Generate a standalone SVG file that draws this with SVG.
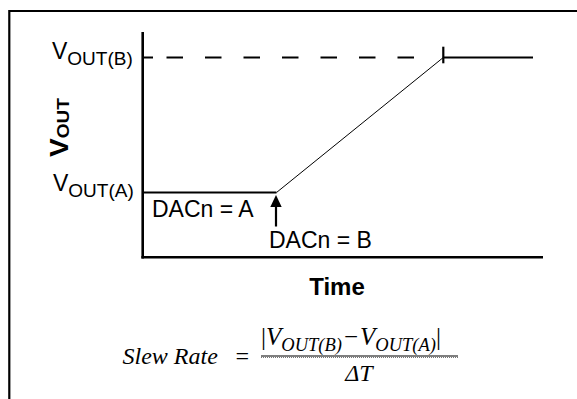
<svg xmlns="http://www.w3.org/2000/svg" width="577" height="399" viewBox="0 0 577 399">
  <style>
    .sans { font-family: "Liberation Sans", Arial, sans-serif; fill: #000; }
    .serif { font-family: "Liberation Serif", "Times New Roman", serif; font-style: italic; fill: #000; }
    .bold { font-weight: bold; }
    .thick { stroke: #000; stroke-width: 2.6; fill: none; }
    .med { stroke: #000; stroke-width: 2.2; fill: none; }
    .thin { stroke: #000; stroke-width: 1; fill: none; }
  </style>
  <rect width="577" height="399" fill="#fff"/>
  <g id="frame">
    <path d="M9.3,399 V11 H577" class="med"/>
  </g>
  <g id="axes">
    <line x1="142.7" y1="32" x2="142.7" y2="258.5" class="thick"/>
    <line x1="141.4" y1="257.3" x2="543" y2="257.3" class="thick"/>
  </g>
  <g id="connectors">
    <path d="M143,57.5 H153 M166.5,57.5 H183 M205,57.5 H221.5 M243.5,57.5 H260 M282,57.5 H298.5 M320.5,57.5 H337 M359,57.5 H375.5 M397.5,57.5 H414" class="med"/>
    <line x1="443.3" y1="57.5" x2="533" y2="57.5" class="med"/>
    <line x1="443.3" y1="46.7" x2="443.3" y2="63.3" class="med"/>
    <line x1="143" y1="192.5" x2="276.5" y2="192.5" class="med"/>
    <line x1="276.5" y1="192.5" x2="443.3" y2="57.5" class="thin"/>
    <line x1="276" y1="206" x2="276" y2="226.5" class="med"/>
    <polygon points="276,195 270.3,207 281.7,207" fill="#000"/>
  </g>
  <g id="label-vout-b">
    <text x="52" y="59" class="sans" font-size="23">V<tspan font-size="19" dy="5.5">OUT(B)</tspan></text>
  </g>
  <g id="label-vout-a">
    <text x="53" y="191" class="sans" font-size="23">V<tspan font-size="19" dy="5.5">OUT(A)</tspan></text>
  </g>
  <g id="label-vout-axis">
    <text transform="translate(68,157) rotate(-90) scale(1.12,1)" class="sans bold" font-size="25">V<tspan font-size="17" dy="1">OUT</tspan></text>
  </g>
  <g id="label-dacn-a">
    <text x="152" y="216.5" class="sans" font-size="23">DACn = A</text>
  </g>
  <g id="label-dacn-b">
    <text x="269" y="247.5" class="sans" font-size="23">DACn = B</text>
  </g>
  <g id="label-time">
    <text x="337" y="295" class="sans bold" font-size="24" text-anchor="middle">Time</text>
  </g>
  <g id="formula">
    <text x="122.5" y="364" class="serif" font-size="24">Slew Rate</text>
    <text x="234" y="364" class="serif" font-size="24" font-style="normal">=</text>
    <text x="261" y="345" class="serif" font-size="25"><tspan font-style="normal">|</tspan>V<tspan font-size="18.5" dy="6">OUT(B)</tspan><tspan font-style="normal" dy="-6" dx="2">−</tspan><tspan dx="2">V</tspan><tspan font-size="18.5" dy="6">OUT(A)</tspan><tspan font-style="normal" dy="-6">|</tspan></text>
    <line x1="261" y1="356" x2="458" y2="356" stroke="#000" stroke-width="1.2"/>
    <line x1="261" y1="357.5" x2="458" y2="357.5" stroke="#777" stroke-width="1" stroke-dasharray="1,1"/>
    <text x="359" y="381" class="serif" font-size="24" text-anchor="middle">ΔT</text>
  </g>
</svg>
